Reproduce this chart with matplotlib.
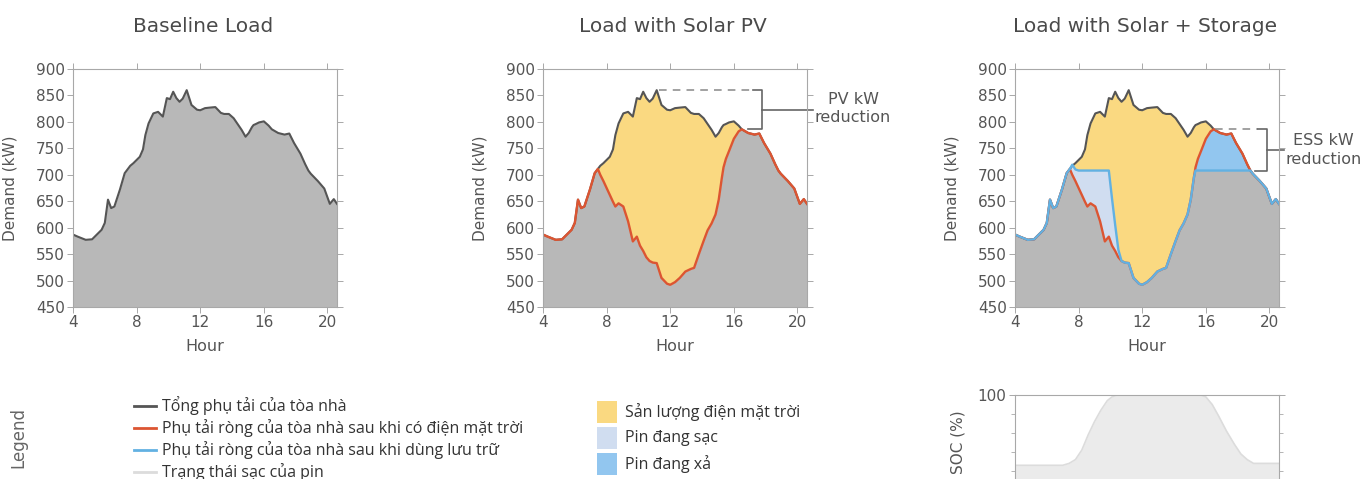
import numpy as np
import matplotlib
matplotlib.use("Agg")
import matplotlib.pyplot as plt
from matplotlib.lines import Line2D
from matplotlib.patches import Rectangle

# ---------------- data ----------------
titles = ["Baseline Load", "Load with Solar PV", "Load with Solar + Storage"]

hours = [4.0, 4.3, 4.8, 5.2, 5.5, 5.8, 6.0, 6.2, 6.4, 6.6, 6.95, 7.25, 7.45, 7.6, 7.8,
         8.0, 8.2, 8.4, 8.55, 8.75, 9.05, 9.35, 9.65, 9.9, 10.1, 10.3, 10.5, 10.7, 10.9,
         11.15, 11.45, 11.8, 12.0, 12.3, 12.6, 12.95, 13.3, 13.5, 13.8, 14.1, 14.35, 14.6,
         14.85, 15.05, 15.25, 15.35, 15.5, 15.7, 16.0, 16.3, 16.5, 16.9, 17.3, 17.6, 17.9,
         18.3, 18.6, 18.8, 18.95, 19.4, 19.8, 20.15, 20.4, 20.6]

baseline_kw = [587, 583, 577, 578, 587, 596, 609, 653, 637, 640, 672, 703, 711, 717, 722,
               728, 734, 748, 775, 797, 816, 819, 810, 845, 843, 857, 845, 838, 844,
               860, 832, 823, 822, 826, 827, 828, 817, 815, 815, 807, 796, 785,
               772, 779, 790, 794, 796, 799, 801, 793, 786, 779, 776, 778, 760,
               740, 720, 708, 702, 688, 674, 645, 654, 645]

net_pv_kw = [587, 583, 577, 578, 587, 596, 609, 653, 637, 640, 672, 703, 711, 700, 688,
             675, 662, 649, 640, 646, 640, 612, 574, 583, 566, 556, 544, 537, 534,
             533, 505, 494, 492, 497, 505, 517, 522, 524, 550, 575, 595, 608,
             625, 653, 695, 714, 730, 745, 768, 782, 786, 779, 776, 778, 760,
             740, 720, 708, 702, 688, 674, 645, 654, 645]

net_ess_kw = [587, 583, 577, 578, 587, 596, 609, 653, 637, 640, 672, 703, 711, 719, 710,
              708, 708, 708, 708, 708, 708, 708, 708, 708, 655, 605, 558, 537, 534,
              533, 505, 494, 492, 497, 505, 517, 522, 524, 550, 575, 595, 608,
              625, 653, 695, 708, 708, 708, 708, 708, 708, 708, 708, 708, 708,
              708, 708, 708, 702, 688, 674, 645, 654, 645]

soc_hours = [4.0, 7.0, 7.4, 7.8, 8.2, 8.6, 9.0, 9.4, 9.8, 10.1, 10.4, 15.7, 16.0, 16.4,
             16.8, 17.3, 17.8, 18.2, 18.6, 19.0, 19.4, 20.6]
soc_pct = [63, 63, 64, 66, 71, 79, 86, 92, 97, 99, 100, 100, 99, 95,
           89, 81, 74, 69, 66, 64, 64, 64]

x_ticks = [4, 8, 12, 16, 20]
y_ticks = [450, 500, 550, 600, 650, 700, 750, 800, 850, 900]

legend_lines = ["Tổng phụ tải của tòa nhà",
                "Phụ tải ròng của tòa nhà sau khi có điện mặt trời",
                "Phụ tải ròng của tòa nhà sau khi dùng lưu trữ",
                "Trạng thái sạc của pin"]
legend_patches = ["Sản lượng điện mặt trời", "Pin đang sạc", "Pin đang xả"]

# ---------------- style ----------------
GRAY = "#b8b8b8"
YELLOW = "#fad981"
LBLUE = "#d0ddf0"
BLUE = "#92c6ef"
DARK = "#555555"
RED = "#dc5532"
LINEBLUE = "#62b1e2"
SOCFILL = "#ebebeb"
SOCLINE = "#dcdcdc"
SPINE = "#a8a8a8"
TXT = "#555555"

W, H = 1365, 479
fig = plt.figure(figsize=(W / 100, H / 100), dpi=100)
plt.rcParams["font.family"] = ["DejaVu Sans"]
VIET = ["Open Sans", "Noto Sans", "DejaVu Sans"]


def px_axes(l, t, r, b):
    return fig.add_axes([l / W, 1 - b / H, (r - l) / W, (b - t) / H])


def style(ax):
    for s in ax.spines.values():
        s.set_color(SPINE)
        s.set_linewidth(0.8)
    ax.tick_params(direction="out", length=4, width=0.7, color=SPINE,
                   labelcolor=TXT, labelsize=11, pad=2, top=True, right=True)


h = np.array(hours)
base = np.array(baseline_kw, dtype=float)
pv = np.array(net_pv_kw, dtype=float)
ess = np.array(net_ess_kw, dtype=float)

lefts = [73, 543, 1015]
axes = []
for i, l in enumerate(lefts):
    ax = px_axes(l, 69, l + 264, 307)
    ax.set_xlim(4, 20.6)
    ax.set_ylim(450, 900)
    ax.set_xticks(x_ticks)
    ax.set_yticks(y_ticks)
    style(ax)
    ax.set_xlabel("Hour", fontsize=11.5, color=TXT)
    ax.xaxis.set_label_coords(0.5, -0.135)
    ax.set_ylabel("Demand (kW)", fontsize=11, color=TXT)
    ax.yaxis.set_label_coords(-0.21, 0.5)
    fig.text((l + 130) / W, 1 - 27 / H, titles[i], ha="center", va="center",
             fontsize=14.5, color="#4a4a4a")
    axes.append(ax)

# Panel 1
ax = axes[0]
ax.fill_between(h, 450, base, color=GRAY, lw=0)
ax.plot(h, base, color=DARK, lw=1.5)

# Panel 2
ax = axes[1]
ax.fill_between(h, 450, pv, color=GRAY, lw=0)
ax.fill_between(h, pv, base, where=base > pv, interpolate=True, color=YELLOW, lw=0)
ax.plot(h, base, color=DARK, lw=1.5)
ax.plot(h, pv, color=RED, lw=1.7)

peak_base = base.max()
peak_pv = pv.max()
ax.plot([11.3, 17.2], [peak_base, peak_base], color="#888888", lw=1.1, ls=(0, (5, 4)))
ax.plot([17.2, 17.8, 17.8, 16.9], [peak_base, peak_base, peak_pv, peak_pv],
        color="#666666", lw=1.2, clip_on=False)
mid = (peak_base + peak_pv) / 2
ax.plot([17.8, 21.0], [mid, mid], color="#666666", lw=1.2, clip_on=False)
ax.text(23.5, mid + 2, "PV kW\nreduction", ha="center", va="center", fontsize=11.5,
        color="#555555", linespacing=1.3, clip_on=False)

# Panel 3
ax = axes[2]
ax.fill_between(h, 450, np.minimum(pv, ess), color=GRAY, lw=0)
ax.fill_between(h, pv, base, where=base > pv, interpolate=True, color=YELLOW, lw=0)
ax.fill_between(h, pv, ess, where=ess > pv, interpolate=True, color=LBLUE, lw=0)
ax.fill_between(h, ess, pv, where=pv > ess, interpolate=True, color=BLUE, lw=0)
ax.plot(h, base, color=DARK, lw=1.5)
ax.plot(h, pv, color=RED, lw=1.7)
ax.plot(h, ess, color=LINEBLUE, lw=1.7)

cap = ess[h > 12].max()
ax.plot([16.6, 19.3], [peak_pv, peak_pv], color="#888888", lw=1.1, ls=(0, (5, 4)))
ax.plot([19.3, 19.83, 19.83, 19.1], [peak_pv, peak_pv, cap, cap],
        color="#666666", lw=1.2, clip_on=False)
mid3 = (peak_pv + cap) / 2
ax.plot([19.83, 20.9], [mid3, mid3], color="#666666", lw=1.2, clip_on=False)
ax.text(23.4, mid3, "ESS kW\nreduction", ha="center", va="center", fontsize=11.5,
        color="#555555", linespacing=1.3, clip_on=False)

# SOC panel
axs = px_axes(1015, 395, 1279, 585)
axs.set_xlim(4, 20.6)
axs.set_ylim(0, 100)
axs.fill_between(soc_hours, 0, soc_pct, color=SOCFILL, lw=0)
axs.plot(soc_hours, soc_pct, color=SOCLINE, lw=1.2)
style(axs)
axs.set_xticks([])
axs.set_yticks([100])
axs.set_yticks(np.arange(0, 101, 10), minor=True)
axs.tick_params(which="minor", length=3, color=SPINE, width=0.6, right=True)
axs.tick_params(top=False)
fig.text(958 / W, 1 - 442 / H, "SOC (%)", rotation=90, ha="center", va="center",
         fontsize=11, color=TXT)

# Legend
fig.text(18 / W, 1 - 438 / H, "Legend", rotation=90, ha="center", va="center",
         fontsize=12, color="#666666")
line_cols = [DARK, RED, LINEBLUE, SOCLINE]
row_y = [406, 428, 450, 472]
for lab, col, y in zip(legend_lines, line_cols, row_y):
    fig.add_artist(Line2D([134 / W, 156 / W], [1 - y / H, 1 - y / H],
                          color=col, lw=2, transform=fig.transFigure))
    fig.text(162 / W, 1 - y / H, lab, ha="left", va="center", fontsize=11.5,
             color="#333333", family=VIET)

patch_cols = [YELLOW, LBLUE, BLUE]
prow_y = [412, 438, 464]
for lab, col, y in zip(legend_patches, patch_cols, prow_y):
    fig.add_artist(Rectangle((597 / W, 1 - (y + 11) / H), 20 / W, 22 / H,
                             color=col, transform=fig.transFigure, lw=0))
    fig.text(625 / W, 1 - y / H, lab, ha="left", va="center", fontsize=11.5,
             color="#333333", family=VIET)

fig.savefig("out.png", dpi=100)
